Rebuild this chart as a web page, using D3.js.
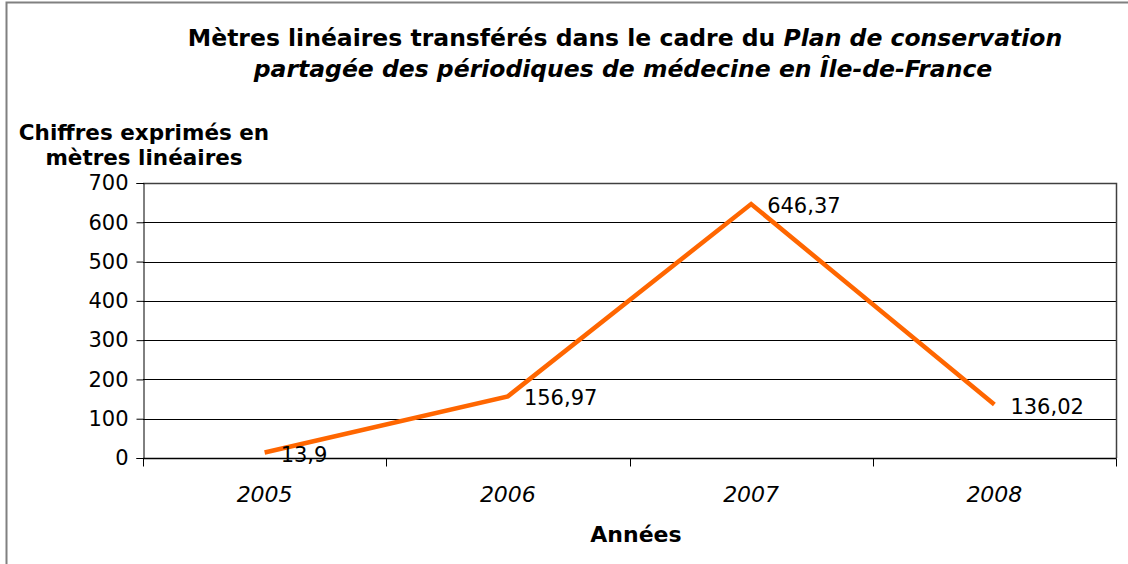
<!DOCTYPE html>
<html>
<head>
<meta charset="utf-8">
<script src="https://cdn.jsdelivr.net/npm/d3@7"></script>
<style>
  body { margin: 0; background: #fff; }
  svg { display: block; font-family: "DejaVu Sans", Verdana, sans-serif; }
</style>
</head>
<body>
<div id="chart"></div>
<script>
// data
var years = ["2005", "2006", "2007", "2008"];
var metres = [13.9, 156.97, 646.37, 136.02];
var valueLabels = ["13,9", "156,97", "646,37", "136,02"];
var yTicks = [0, 100, 200, 300, 400, 500, 600, 700];

var width = 1128, height = 564;
var margin = {left: 143, right: 12, top: 183, bottom: 106};

var svg = d3.select("#chart").append("svg")
    .attr("width", width)
    .attr("height", height);

// outer frame
svg.append("rect")
    .attr("x", 6.5).attr("y", 2.5)
    .attr("width", width + 10).attr("height", height + 10)
    .attr("fill", "none")
    .attr("stroke", "#808080")
    .attr("stroke-width", 2);

var x = d3.scaleBand()
    .domain(years)
    .range([margin.left, width - margin.right]);

var y = d3.scaleLinear()
    .domain([0, 700])
    .range([height - margin.bottom, margin.top]);

// gridlines
svg.append("g")
    .selectAll("line")
    .data(yTicks)
    .enter()
    .append("line")
    .attr("x1", margin.left)
    .attr("x2", width - margin.right)
    .attr("y1", d => Math.round(y(d)) + 0.5)
    .attr("y2", d => Math.round(y(d)) + 0.5)
    .attr("stroke", "#000")
    .attr("stroke-width", 1);

// plot border top/right
svg.append("path")
    .attr("d", "M" + margin.left + "," + (margin.top + 0.5) + "H" + (width - margin.right + 0.5) + "V" + (height - margin.bottom))
    .attr("fill", "none")
    .attr("stroke", "#404040")
    .attr("stroke-width", 1.5);

// y axis
var yAxis = svg.append("g")
    .attr("transform", "translate(" + (margin.left + 0.5) + ",0)")
    .call(d3.axisLeft(y).tickValues(yTicks).tickSize(7).tickPadding(8).tickFormat(d3.format("d")));
yAxis.select(".domain").attr("stroke", "#000");
yAxis.selectAll(".tick line").attr("stroke", "#000");
yAxis.selectAll("text")
    .attr("font-size", 21)
    .attr("font-family", "DejaVu Sans, sans-serif")
    .attr("fill", "#000");

// x axis with ticks between categories
var xAxisG = svg.append("g")
    .attr("transform", "translate(0," + (Math.round(y(0)) + 0.5) + ")");
xAxisG.append("line")
    .attr("x1", margin.left).attr("x2", width - margin.right + 0.5)
    .attr("stroke", "#000").attr("stroke-width", 1.5);
var edges = years.map(d => x(d)).concat([x(years[years.length - 1]) + x.bandwidth()]);
xAxisG.selectAll(".edge")
    .data(edges)
    .enter()
    .append("line")
    .attr("x1", d => Math.round(d) + 0.5)
    .attr("x2", d => Math.round(d) + 0.5)
    .attr("y1", 0).attr("y2", 8)
    .attr("stroke", "#000");
xAxisG.selectAll("text")
    .data(years)
    .enter()
    .append("text")
    .attr("x", d => x(d) + x.bandwidth() / 2)
    .attr("y", 43)
    .attr("text-anchor", "middle")
    .attr("font-size", 22)
    .attr("font-style", "italic")
    .text(d => d);

// line
var line = d3.line()
    .x((d, i) => x(years[i]) + x.bandwidth() / 2)
    .y(d => y(d));

svg.append("path")
    .datum(metres)
    .attr("d", line)
    .attr("fill", "none")
    .attr("stroke", "#FF6600")
    .attr("stroke-width", 4.5);

// data labels
svg.selectAll(".vlabel")
    .data(metres)
    .enter()
    .append("text")
    .attr("x", (d, i) => x(years[i]) + x.bandwidth() / 2 + 16)
    .attr("y", d => y(d) + 9)
    .attr("font-size", 21)
    .text((d, i) => valueLabels[i]);

// title
var title = svg.append("text")
    .attr("text-anchor", "middle")
    .attr("font-size", 23.5)
    .attr("font-weight", "bold");
var t1 = title.append("tspan").attr("x", 625).attr("y", 46);
t1.append("tspan").text("Mètres linéaires transférés dans le cadre du ");
t1.append("tspan").attr("font-style", "italic").text("Plan de conservation");
title.append("tspan").attr("x", 623).attr("y", 77)
    .attr("font-style", "italic")
    .text("partagée des périodiques de médecine en Île-de-France");

// y axis title
var ytitle = svg.append("text")
    .attr("text-anchor", "middle")
    .attr("font-size", 21.5)
    .attr("font-weight", "bold");
ytitle.append("tspan").attr("x", 144).attr("y", 140).text("Chiffres exprimés en");
ytitle.append("tspan").attr("x", 144).attr("y", 165).text("mètres linéaires");

// x axis title
svg.append("text")
    .attr("x", 636)
    .attr("y", 542)
    .attr("text-anchor", "middle")
    .attr("font-size", 22)
    .attr("font-weight", "bold")
    .text("Années");
</script>
</body>
</html>
